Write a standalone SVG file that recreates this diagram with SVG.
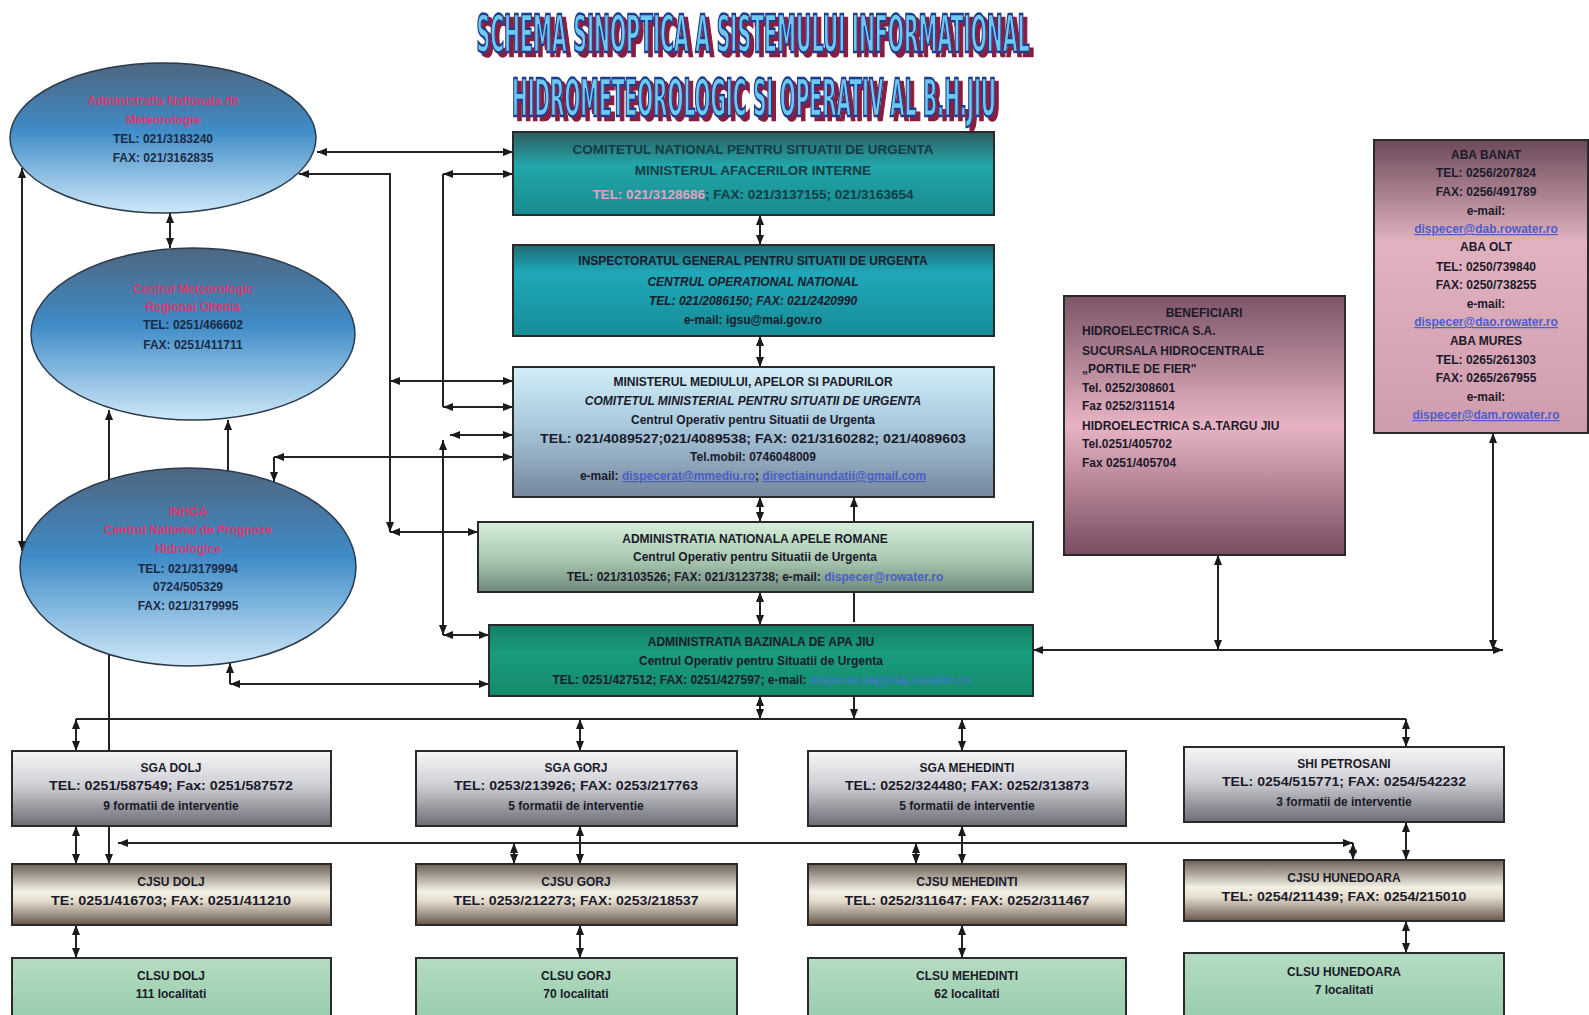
<svg xmlns="http://www.w3.org/2000/svg" width="1589" height="1015" viewBox="0 0 1589 1015">
<defs>
<style>
text{font-family:"Liberation Sans",Arial,sans-serif;font-weight:bold;text-anchor:middle}
.t{font-size:12px;fill:#1a1a2a}
.tb{font-size:13.5px}
.pk{fill:#d83a70}
.nv{fill:#1a2a44}
.lk{fill:#4a5ec8;text-decoration:underline}
.it{font-style:italic}
.lf{text-anchor:start}
.box{stroke:#2a2a2a;stroke-width:2}
.ell{stroke:#2a3a4a;stroke-width:1.5;fill:url(#gEll)}
.c{stroke:#222;stroke-width:2;fill:none}
.b{marker-start:url(#ar);marker-end:url(#ar)}
.e{marker-end:url(#ar)}
.s{marker-start:url(#ar)}
.ttl{font-family:"DejaVu Sans Condensed","Liberation Sans",sans-serif;font-stretch:condensed;font-size:52px;font-weight:bold;fill:#6ec8f0;stroke:#1c3c8c;stroke-width:2.5}
</style>
<filter id="sh" filterUnits="userSpaceOnUse" x="440" y="0" width="620" height="135"><feOffset in="SourceAlpha" dx="4" dy="4" result="o"/><feFlood flood-color="#8a1c3c"/><feComposite in2="o" operator="in" result="s"/><feMerge><feMergeNode in="s"/><feMergeNode in="SourceGraphic"/></feMerge></filter>
<marker id="ar" viewBox="0 0 10 8" refX="10" refY="4" markerWidth="10" markerHeight="8" markerUnits="userSpaceOnUse" orient="auto-start-reverse"><path d="M0,0 L10,4 L0,8 z" fill="#1a1a1a"/></marker>
<linearGradient id="gEll" x1="0" y1="0" x2="0" y2="1"><stop offset="0" stop-color="#4e6680"/><stop offset="0.45" stop-color="#3f8cc8"/><stop offset="1" stop-color="#cfe8f8"/></linearGradient>
<linearGradient id="gTeal" x1="0" y1="0" x2="0" y2="1"><stop offset="0" stop-color="#2c5c5e"/><stop offset="0.4" stop-color="#23a6aa"/><stop offset="1" stop-color="#178c90"/></linearGradient>
<linearGradient id="gTeal2" x1="0" y1="0" x2="0" y2="1"><stop offset="0" stop-color="#1e6a72"/><stop offset="0.3" stop-color="#1fa8b8"/><stop offset="1" stop-color="#168c98"/></linearGradient>
<linearGradient id="gMin" x1="0" y1="0" x2="0" y2="1"><stop offset="0" stop-color="#d2eef8"/><stop offset="0.45" stop-color="#a8c8dc"/><stop offset="1" stop-color="#76879c"/></linearGradient>
<linearGradient id="gAnar" x1="0" y1="0" x2="0" y2="1"><stop offset="0" stop-color="#d6efda"/><stop offset="0.55" stop-color="#a9c6b0"/><stop offset="1" stop-color="#6e8a7c"/></linearGradient>
<linearGradient id="gJiu" x1="0" y1="0" x2="0" y2="1"><stop offset="0" stop-color="#137e64"/><stop offset="0.4" stop-color="#1a9c7e"/><stop offset="1" stop-color="#148a6c"/></linearGradient>
<linearGradient id="gBen" x1="0" y1="0" x2="0" y2="1"><stop offset="0" stop-color="#7c5468"/><stop offset="0.5" stop-color="#e8b4c4"/><stop offset="1" stop-color="#7a4c62"/></linearGradient>
<linearGradient id="gAba" x1="0" y1="0" x2="0" y2="1"><stop offset="0" stop-color="#6c4a5a"/><stop offset="0.35" stop-color="#e2b2c0"/><stop offset="1" stop-color="#cf9cae"/></linearGradient>
<linearGradient id="gSga" x1="0" y1="0" x2="0" y2="1"><stop offset="0" stop-color="#f6f6f6"/><stop offset="0.45" stop-color="#cfd0d6"/><stop offset="1" stop-color="#6c6c74"/></linearGradient>
<linearGradient id="gCj" x1="0" y1="0" x2="0" y2="1"><stop offset="0" stop-color="#6c6056"/><stop offset="0.45" stop-color="#f4f0e4"/><stop offset="0.6" stop-color="#e6dfd0"/><stop offset="1" stop-color="#66564c"/></linearGradient>
<linearGradient id="gCl" x1="0" y1="0" x2="0" y2="1"><stop offset="0" stop-color="#b4dcc0"/><stop offset="1" stop-color="#98ccae"/></linearGradient>
</defs>
<rect width="1589" height="1015" fill="#ffffff"/>

<g id="title" filter="url(#sh)">
<text class="ttl" transform="translate(753,52) scale(0.41,1)" x="0" y="0" textLength="1349" lengthAdjust="spacingAndGlyphs">SCHEMA SINOPTICA A SISTEMULUI INFORMATIONAL</text>
<text class="ttl" transform="translate(754,116) scale(0.39,1)" x="0" y="0" textLength="1241" lengthAdjust="spacingAndGlyphs">HIDROMETEOROLOGIC SI OPERATIV AL B.H.JIU</text>
</g>

<g id="connectors">
<line class="c b" x1="317" y1="152" x2="513" y2="152"/>
<path class="c s e" d="M299,174 H390 V532"/>
<line class="c b" x1="390" y1="532" x2="478" y2="532"/>
<line class="c b" x1="390" y1="381" x2="513" y2="381"/>
<line class="c b" x1="443" y1="174" x2="513" y2="174"/>
<line class="c" x1="443" y1="174" x2="443" y2="407"/>
<line class="c b" x1="443" y1="407" x2="513" y2="407"/>
<line class="c b" x1="443" y1="440" x2="443" y2="635"/>
<line class="c b" x1="450" y1="435" x2="513" y2="435"/>
<line class="c b" x1="443" y1="635" x2="489" y2="635"/>
<line class="c b" x1="274" y1="457" x2="513" y2="457"/>
<line class="c e" x1="274" y1="457" x2="274" y2="482"/>
<line class="c s" x1="230" y1="663" x2="230" y2="684"/>
<line class="c b" x1="230" y1="684" x2="489" y2="684"/>
<line class="c b" x1="170" y1="213" x2="170" y2="248"/>
<line class="c e" x1="109" y1="480" x2="109" y2="410"/>
<line class="c e" x1="228" y1="471" x2="228" y2="420"/>
<line class="c b" x1="22" y1="168" x2="22" y2="551"/>
<line class="c b" x1="760" y1="215" x2="760" y2="245"/>
<line class="c b" x1="760" y1="336" x2="760" y2="367"/>
<line class="c b" x1="760" y1="497" x2="760" y2="522"/>
<line class="c b" x1="760" y1="592" x2="760" y2="625"/>
<line class="c s" x1="854" y1="497" x2="854" y2="522"/>
<line class="c" x1="854" y1="592" x2="854" y2="622"/>
<line class="c s" x1="1033" y1="650" x2="1503" y2="650"/>
<line class="c e" x1="1493" y1="650" x2="1503" y2="650"/>
<line class="c b" x1="1218" y1="555" x2="1218" y2="650"/>
<line class="c b" x1="1493" y1="433" x2="1493" y2="650"/>
<line class="c b" x1="760" y1="696" x2="760" y2="719"/>
<line class="c e" x1="854" y1="696" x2="854" y2="719"/>
<line class="c" x1="76" y1="719" x2="1406" y2="719"/>
<line class="c b" x1="76" y1="719" x2="76" y2="751"/>
<line class="c b" x1="580" y1="719" x2="580" y2="751"/>
<line class="c b" x1="962" y1="719" x2="962" y2="751"/>
<line class="c b" x1="1406" y1="719" x2="1406" y2="747"/>
<line class="c e" x1="109" y1="654" x2="109" y2="864"/>
<line class="c s e" x1="118" y1="843" x2="1353" y2="843"/>
<line class="c b" x1="514" y1="843" x2="514" y2="864"/>
<line class="c b" x1="916" y1="843" x2="916" y2="864"/>
<line class="c b" x1="1353" y1="843" x2="1353" y2="860"/>
<line class="c b" x1="76" y1="826" x2="76" y2="864"/>
<line class="c b" x1="580" y1="826" x2="580" y2="864"/>
<line class="c b" x1="962" y1="826" x2="962" y2="864"/>
<line class="c b" x1="1406" y1="822" x2="1406" y2="860"/>
<line class="c b" x1="76" y1="925" x2="76" y2="958"/>
<line class="c b" x1="580" y1="925" x2="580" y2="958"/>
<line class="c b" x1="962" y1="925" x2="962" y2="958"/>
<line class="c b" x1="1406" y1="921" x2="1406" y2="953"/>
</g>

<g id="anm">
<ellipse class="ell" cx="163" cy="138" rx="153" ry="75"/>
<text class="t pk" x="163" y="105">Administratia Nationala de</text>
<text class="t pk" x="163" y="124">Meteorologie</text>
<text class="t nv" x="163" y="143">TEL: 021/3183240</text>
<text class="t nv" x="163" y="162">FAX: 021/3162835</text>
</g>
<g id="cmr">
<ellipse class="ell" cx="193" cy="334" rx="162" ry="86"/>
<text class="t pk" x="193" y="293">Centrul Meteorologic</text>
<text class="t pk" x="193" y="311">Regional Oltenia</text>
<text class="t nv" x="193" y="329">TEL: 0251/466602</text>
<text class="t nv" x="193" y="349">FAX: 0251/411711</text>
</g>
<g id="inhga">
<ellipse class="ell" cx="188" cy="567" rx="168" ry="99"/>
<text class="t pk" x="188" y="516">INHGA</text>
<text class="t pk" x="188" y="534">Centrul National de Prognoze</text>
<text class="t pk" x="188" y="553">Hidrologice</text>
<text class="t nv" x="188" y="573">TEL: 021/3179994</text>
<text class="t nv" x="188" y="591">0724/505329</text>
<text class="t nv" x="188" y="610">FAX: 021/3179995</text>
</g>

<g id="cnsu">
<rect class="box" x="513" y="132" width="481" height="83" fill="url(#gTeal)"/>
<text class="tb" x="753" y="154" fill="#143c44">COMITETUL NATIONAL PENTRU SITUATII DE URGENTA</text>
<text class="tb" x="753" y="175" fill="#143c44">MINISTERUL AFACERILOR INTERNE</text>
<text class="tb" x="753" y="199" fill="#143c44"><tspan fill="#e8a0c0">TEL: 021/3128686</tspan>; FAX: 021/3137155; 021/3163654</text>
</g>
<g id="igsu">
<rect class="box" x="513" y="245" width="481" height="91" fill="url(#gTeal2)"/>
<text class="t" x="753" y="265" fill="#1c5a66">INSPECTORATUL GENERAL PENTRU SITUATII DE URGENTA</text>
<text class="t it" x="753" y="286" fill="#1c5a66">CENTRUL OPERATIONAL NATIONAL</text>
<text class="t it" x="753" y="305" fill="#1c5a66">TEL: 021/2086150; FAX: 021/2420990</text>
<text class="t" x="753" y="324" fill="#1c5a66">e-mail: igsu@mai.gov.ro</text>
</g>
<g id="mmap">
<rect class="box" x="513" y="367" width="481" height="130" fill="url(#gMin)"/>
<text class="t" x="753" y="386">MINISTERUL MEDIULUI, APELOR SI PADURILOR</text>
<text class="t it" x="753" y="405">COMITETUL MINISTERIAL PENTRU SITUATII DE URGENTA</text>
<text class="t" x="753" y="424">Centrul Operativ pentru Situatii de Urgenta</text>
<text class="t" x="753" y="443" textLength="426" lengthAdjust="spacingAndGlyphs">TEL: 021/4089527;021/4089538; FAX: 021/3160282; 021/4089603</text>
<text class="t" x="753" y="461">Tel.mobil: 0746048009</text>
<text class="t" x="753" y="480">e-mail: <tspan class="lk">dispecerat@mmediu.ro</tspan>; <tspan class="lk">directiainundatii@gmail.com</tspan></text>
</g>
<g id="anar">
<rect class="box" x="478" y="522" width="555" height="70" fill="url(#gAnar)"/>
<text class="t" x="755" y="543">ADMINISTRATIA NATIONALA APELE ROMANE</text>
<text class="t" x="755" y="561">Centrul Operativ pentru Situatii de Urgenta</text>
<text class="t" x="755" y="581">TEL: 021/3103526; FAX: 021/3123738; e-mail: <tspan class="lk" style="text-decoration:none">dispecer@rowater.ro</tspan></text>
</g>
<g id="abajiu">
<rect class="box" x="489" y="625" width="544" height="71" fill="url(#gJiu)"/>
<text class="t" x="761" y="646" fill="#0c4a40">ADMINISTRATIA BAZINALA DE APA JIU</text>
<text class="t" x="761" y="665" fill="#0c4a40">Centrul Operativ pentru Situatii de Urgenta</text>
<text class="t" x="761" y="684" fill="#0c4a40">TEL: 0251/427512; FAX: 0251/427597; e-mail: <tspan fill="#3a7ac0">dispecer.daj@daj.rowater.ro</tspan></text>
</g>

<g id="beneficiari">
<rect class="box" x="1064" y="296" width="281" height="259" fill="url(#gBen)"/>
<text class="t" x="1204" y="317">BENEFICIARI</text>
<text class="t lf" x="1082" y="335">HIDROELECTRICA S.A.</text>
<text class="t lf" x="1082" y="355">SUCURSALA HIDROCENTRALE</text>
<text class="t lf" x="1082" y="373">„PORTILE DE FIER"</text>
<text class="t lf" x="1082" y="392">Tel. 0252/308601</text>
<text class="t lf" x="1082" y="410">Faz 0252/311514</text>
<text class="t lf" x="1082" y="430">HIDROELECTRICA S.A.TARGU JIU</text>
<text class="t lf" x="1082" y="448">Tel.0251/405702</text>
<text class="t lf" x="1082" y="467">Fax 0251/405704</text>
</g>
<g id="aba">
<rect class="box" x="1374" y="140" width="214" height="293" fill="url(#gAba)"/>
<text class="t" x="1486" y="159">ABA BANAT</text>
<text class="t" x="1486" y="177">TEL: 0256/207824</text>
<text class="t" x="1486" y="196">FAX: 0256/491789</text>
<text class="t" x="1486" y="215">e-mail:</text>
<text class="t lk" x="1486" y="233">dispecer@dab.rowater.ro</text>
<text class="t" x="1486" y="251">ABA OLT</text>
<text class="t" x="1486" y="271">TEL: 0250/739840</text>
<text class="t" x="1486" y="289">FAX: 0250/738255</text>
<text class="t" x="1486" y="308">e-mail:</text>
<text class="t lk" x="1486" y="326">dispecer@dao.rowater.ro</text>
<text class="t" x="1486" y="345">ABA MURES</text>
<text class="t" x="1486" y="364">TEL: 0265/261303</text>
<text class="t" x="1486" y="382">FAX: 0265/267955</text>
<text class="t" x="1486" y="401">e-mail:</text>
<text class="t lk" x="1486" y="419">dispecer@dam.rowater.ro</text>
</g>

<g id="sga-dolj"><rect class="box" x="12" y="751" width="319" height="75" fill="url(#gSga)"/>
<text class="t" x="171" y="772">SGA DOLJ</text><text class="t" x="171" y="790" textLength="244" lengthAdjust="spacingAndGlyphs">TEL: 0251/587549; Fax: 0251/587572</text><text class="t" x="171" y="810" fill="#4a4aa0">9 formatii de interventie</text></g>
<g id="sga-gorj"><rect class="box" x="416" y="751" width="321" height="75" fill="url(#gSga)"/>
<text class="t" x="576" y="772">SGA GORJ</text><text class="t" x="576" y="790" textLength="244" lengthAdjust="spacingAndGlyphs">TEL: 0253/213926; FAX: 0253/217763</text><text class="t" x="576" y="810" fill="#4a4aa0">5 formatii de interventie</text></g>
<g id="sga-meh"><rect class="box" x="808" y="751" width="318" height="75" fill="url(#gSga)"/>
<text class="t" x="967" y="772">SGA MEHEDINTI</text><text class="t" x="967" y="790" textLength="244" lengthAdjust="spacingAndGlyphs">TEL: 0252/324480; FAX: 0252/313873</text><text class="t" x="967" y="810" fill="#4a4aa0">5 formatii de interventie</text></g>
<g id="shi-pet"><rect class="box" x="1184" y="747" width="320" height="75" fill="url(#gSga)"/>
<text class="t" x="1344" y="768">SHI PETROSANI</text><text class="t" x="1344" y="786" textLength="244" lengthAdjust="spacingAndGlyphs">TEL: 0254/515771; FAX: 0254/542232</text><text class="t" x="1344" y="806" fill="#4a4aa0">3 formatii de interventie</text></g>

<g id="cjsu-dolj"><rect class="box" x="12" y="864" width="319" height="61" fill="url(#gCj)"/>
<text class="t" x="171" y="886">CJSU DOLJ</text><text class="t" x="171" y="905" textLength="240" lengthAdjust="spacingAndGlyphs">TE: 0251/416703; FAX: 0251/411210</text></g>
<g id="cjsu-gorj"><rect class="box" x="416" y="864" width="321" height="61" fill="url(#gCj)"/>
<text class="t" x="576" y="886">CJSU GORJ</text><text class="t" x="576" y="905" textLength="245" lengthAdjust="spacingAndGlyphs">TEL: 0253/212273; FAX: 0253/218537</text></g>
<g id="cjsu-meh"><rect class="box" x="808" y="864" width="318" height="61" fill="url(#gCj)"/>
<text class="t" x="967" y="886">CJSU MEHEDINTI</text><text class="t" x="967" y="905" textLength="245" lengthAdjust="spacingAndGlyphs">TEL: 0252/311647: FAX: 0252/311467</text></g>
<g id="cjsu-hun"><rect class="box" x="1184" y="860" width="320" height="61" fill="url(#gCj)"/>
<text class="t" x="1344" y="882">CJSU HUNEDOARA</text><text class="t" x="1344" y="901" textLength="245" lengthAdjust="spacingAndGlyphs">TEL: 0254/211439; FAX: 0254/215010</text></g>

<g id="clsu-dolj"><rect class="box" x="12" y="958" width="319" height="62" fill="url(#gCl)"/>
<text class="t" x="171" y="980">CLSU DOLJ</text><text class="t" x="171" y="998">111 localitati</text></g>
<g id="clsu-gorj"><rect class="box" x="416" y="958" width="321" height="62" fill="url(#gCl)"/>
<text class="t" x="576" y="980">CLSU GORJ</text><text class="t" x="576" y="998">70 localitati</text></g>
<g id="clsu-meh"><rect class="box" x="808" y="958" width="318" height="62" fill="url(#gCl)"/>
<text class="t" x="967" y="980">CLSU MEHEDINTI</text><text class="t" x="967" y="998">62 localitati</text></g>
<g id="clsu-hun"><rect class="box" x="1184" y="953" width="320" height="67" fill="url(#gCl)"/>
<text class="t" x="1344" y="976">CLSU HUNEDOARA</text><text class="t" x="1344" y="994">7 localitati</text></g>
</svg>
